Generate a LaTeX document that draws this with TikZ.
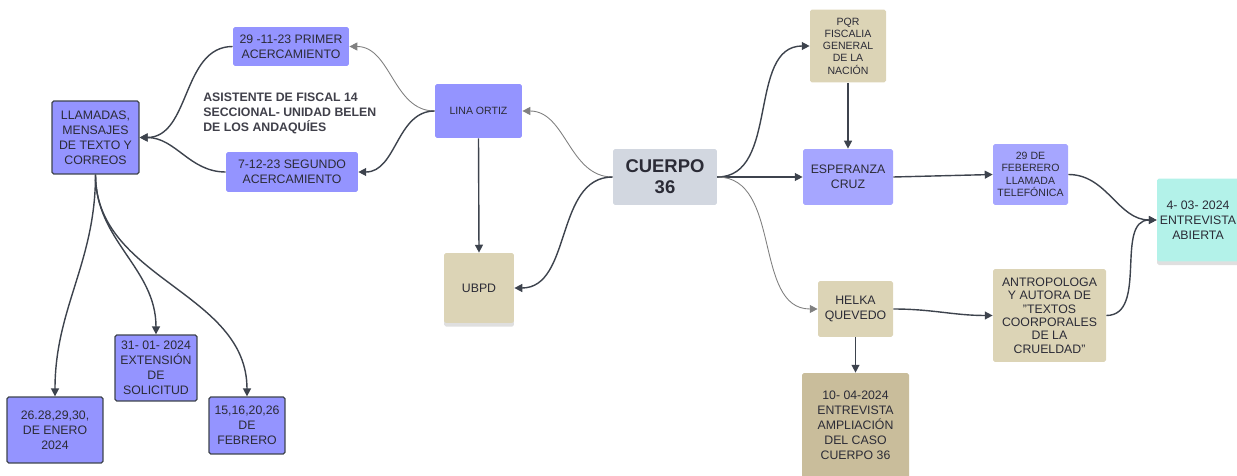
\documentclass[tikz,border=0pt]{standalone}
\usepackage{fontspec}
\setmainfont{Liberation Sans}
\usetikzlibrary{arrows.meta,shadows}

\definecolor{boxpurple}{HTML}{9494FF}
\definecolor{lightpurple}{HTML}{A6A6FF}
\definecolor{boxtan}{HTML}{DCD4B6}
\definecolor{darktan}{HTML}{C9BD9B}
\definecolor{boxgray}{HTML}{D2D7E0}
\definecolor{boxaqua}{HTML}{B3F2E9}
\definecolor{linedark}{HTML}{3D434D}
\definecolor{textdark}{HTML}{2B2B36}

\begin{document}
\begin{tikzpicture}[x=0.02cm, y=-0.02cm,
  box/.style={rounded corners=1pt, align=center, text=textdark, inner sep=1pt,
    font=\fontsize{7}{8.5}\selectfont},
  purplebox/.style={box, fill=boxpurple},
  framedbox/.style={box, fill=boxpurple, draw=linedark, line width=0.7pt},
  tanbox/.style={box, fill=boxtan},
  smalltext/.style={font=\fontsize{6}{7}\selectfont},
  shadowed/.style={drop shadow={shadow xshift=0pt, shadow yshift=-2pt, opacity=0.25}},
  conn/.style={draw=linedark, line width=0.8pt, -{Triangle[length=4.5pt,width=4.5pt]}},
  thinconn/.style={conn, draw=gray, line width=0.5pt}]
\useasboundingbox (0,0) rectangle (1237,476);

% Left branch
\node[framedbox, minimum width=1.74cm, minimum height=1.46cm] (llamadas) at (95.5,137.5)
  {LLAMADAS,\\MENSAJES\\DE TEXTO Y\\CORREOS};
\node[purplebox, minimum width=2.32cm, minimum height=0.78cm] (primer) at (291,46.5)
  {29 -11-23 PRIMER\\ACERCAMIENTO};
\node[purplebox, minimum width=2.64cm, minimum height=0.80cm] (segundo) at (292,172)
  {7-12-23 SEGUNDO\\ACERCAMIENTO};
\node[anchor=west, align=left, text=textdark!90, inner sep=0pt,
  font=\bfseries\fontsize{7}{8.5}\selectfont] (asistente) at (203,113)
  {ASISTENTE DE FISCAL 14\\SECCIONAL- UNIDAD BELEN\\DE LOS ANDAQUÍES};

% Dates under the calls
\node[framedbox, minimum width=1.92cm, minimum height=1.32cm] (enero) at (55,430)
  {26.28,29,30,\\DE ENERO\\2024};
\node[framedbox, minimum width=1.64cm, minimum height=1.32cm] (extension) at (156,368)
  {31- 01- 2024\\EXTENSIÓN\\DE\\SOLICITUD};
\node[framedbox, minimum width=1.52cm, minimum height=1.14cm] (febrero) at (247,425.5)
  {15,16,20,26\\DE\\FEBRERO};

% Centre
\node[purplebox, smalltext, minimum width=1.74cm, minimum height=1.08cm] (lina) at (478.5,111)
  {LINA ORTIZ};
\node[box, fill=boxgray, font=\bfseries\fontsize{10.5}{12}\selectfont,
  minimum width=2.08cm, minimum height=1.12cm] (cuerpo) at (665,177) {CUERPO\\36};
\node[tanbox, shadowed, minimum width=1.40cm, minimum height=1.40cm] (ubpd) at (479,288) {UBPD};

% Right branch
\node[tanbox, smalltext, minimum width=1.52cm, minimum height=1.46cm] (pqr) at (848,46)
  {PQR\\FISCALIA\\GENERAL\\DE LA\\NACIÓN};
\node[box, fill=lightpurple, minimum width=1.80cm, minimum height=1.12cm] (esperanza) at (848,177)
  {ESPERANZA\\CRUZ};
\node[box, fill=lightpurple, smalltext, minimum width=1.50cm, minimum height=1.22cm] (llamada) at (1030.5,174.5)
  {29 DE\\FEBERERO\\LLAMADA\\TELEFÓNICA};
\node[box, fill=boxaqua, shadowed, minimum width=1.64cm, minimum height=1.66cm] (abierta) at (1198,220)
  {4- 03- 2024\\ENTREVISTA\\ABIERTA};
\node[tanbox, minimum width=1.50cm, minimum height=1.12cm] (helka) at (855.5,309)
  {HELKA\\QUEVEDO};
\node[tanbox, font=\fontsize{7}{7.6}\selectfont, minimum width=2.26cm, minimum height=1.86cm] (antropologa) at (1049.5,315.5)
  {ANTROPOLOGA\\Y AUTORA DE\\"TEXTOS\\COORPORALES\\DE LA\\CRUELDAD"};
\node[box, fill=darktan, minimum width=2.14cm, minimum height=2.1cm] (ampliacion) at (855.5,425.5)
  {10- 04-2024\\ENTREVISTA\\AMPLIACIÓN\\DEL CASO\\CUERPO 36};

% Connectors
\draw[thinconn] (lina.west) to[out=180, in=0] (primer.east);
\draw[conn] (lina.west) to[out=180, in=0] (segundo.east);
\draw[conn] (primer.west) to[out=180, in=0] (llamadas.east);
\draw[conn] (segundo.west) to[out=180, in=0] (llamadas.east);
\draw[conn] (llamadas.south) to[out=-90, in=90] (enero.north);
\draw[conn] (llamadas.south) to[out=-90, in=90] (extension.north);
\draw[conn] (llamadas.south) to[out=-90, in=90] (febrero.north);
\draw[thinconn] (cuerpo.west) to[out=180, in=0] (lina.east);
\draw[conn] (cuerpo.west) to[out=180, in=0] (ubpd.east);
\draw[conn] (lina.south) -- (ubpd.north);
\draw[conn] (cuerpo.east) to[out=0, in=180] (pqr.west);
\draw[conn] (cuerpo.east) -- (esperanza.west);
\draw[thinconn] (cuerpo.east) to[out=0, in=180] (helka.west);
\draw[conn] (pqr.south) -- (esperanza.north);
\draw[conn] (esperanza.east) -- (llamada.west);
\draw[conn] (llamada.east) to[out=0, in=180] (abierta.west);
\draw[conn] (antropologa.east) to[out=0, in=180] (abierta.west);
\draw[conn] (helka.east) to[out=0, in=180] (antropologa.west);
\draw[conn] (helka.south) -- (ampliacion.north);
\end{tikzpicture}
\end{document}
